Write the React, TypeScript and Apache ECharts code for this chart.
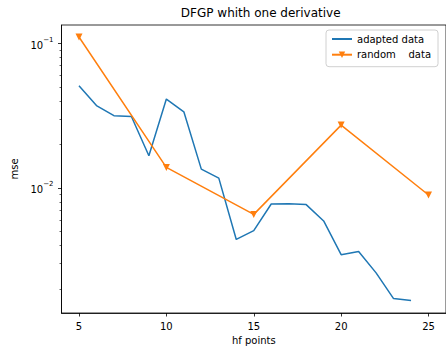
import React, { useEffect, useRef } from "react";
import * as echarts from "echarts";

const TITLE = "DFGP whith one derivative";
const X_NAME = "hf points";
const Y_NAME = "mse";
const ADAPTED_NAME = "adapted data";
const RANDOM_NAME = "random    data";

const adaptedX = [5, 6, 7, 8, 9, 10, 11, 12, 13, 14, 15, 16, 17, 18, 19, 20, 21, 22, 23, 24];
const adaptedMse = [
  0.0509, 0.0371, 0.0316, 0.0312, 0.0167, 0.0412, 0.0336, 0.0135, 0.0117, 0.00441,
  0.00507, 0.00775, 0.00779, 0.00768, 0.00592, 0.00346, 0.00364, 0.00259, 0.00172, 0.00167,
];
const randomX = [5, 10, 15, 20, 25];
const randomMse = [0.1106, 0.01387, 0.00657, 0.0272, 0.00895];

const xTicks = [5, 10, 15, 20, 25];
const yMajorTicks = [0.01, 0.1];
const yMinorTicks = [
  0.002, 0.003, 0.004, 0.005, 0.006, 0.007, 0.008, 0.009,
  0.02, 0.03, 0.04, 0.05, 0.06, 0.07, 0.08, 0.09,
];

const FONT = "DejaVu Sans";
const BLUE = "#1f77b4";
const ORANGE = "#ff7f0e";

export default function App() {
  const ref = useRef<HTMLDivElement>(null);
  useEffect(() => {
    if (!ref.current) return;
    const chart = echarts.init(ref.current, undefined, { renderer: "svg" });
    const yMin = 0.001368;
    const yMax = 0.1338;
    chart.setOption({
      animation: false,
      backgroundColor: "#fff",
      textStyle: { fontFamily: FONT },
      title: {
        text: TITLE,
        left: 255.7,
        textAlign: "center",
        top: 1.5,
        textStyle: { fontFamily: FONT, fontSize: 12, fontWeight: "normal", color: "#000" },
      },
      legend: {
        orient: "vertical",
        left: 326,
        top: 30,
        padding: [4, 7, 7, 5],
        itemGap: 5.7,
        itemWidth: 20,
        itemHeight: 8,
        borderColor: "#d0d0d0",
        borderWidth: 1,
        borderRadius: 3,
        backgroundColor: "#fff",
        textStyle: { fontFamily: FONT, fontSize: 10, color: "#000" },
        data: [
          { name: ADAPTED_NAME, itemStyle: { color: "transparent", borderWidth: 0 } },
          { name: RANDOM_NAME },
        ],
      },
      grid: {
        left: 61.5,
        top: 25,
        width: 388.5,
        height: 288,
        show: true,
        borderColor: "#000",
        borderWidth: 0.8,
        backgroundColor: "transparent",
      },
      xAxis: {
        type: "value",
        min: 4,
        max: 26,
        name: X_NAME,
        nameLocation: "middle",
        nameGap: 22,
        nameTextStyle: { fontFamily: FONT, fontSize: 10, color: "#000" },
        axisLine: { show: true, lineStyle: { color: "#000", width: 0.8 } },
        axisTick: { show: true, length: 3.5, customValues: xTicks, lineStyle: { color: "#000", width: 0.8 } },
        axisLabel: { customValues: xTicks, margin: 8, fontFamily: FONT, fontSize: 10, color: "#000" },
        splitLine: { show: false },
      },
      yAxis: [
        {
          type: "log",
          logBase: 10,
          min: yMin,
          max: yMax,
          name: Y_NAME,
          nameLocation: "middle",
          nameGap: 34,
          nameTextStyle: { fontFamily: FONT, fontSize: 10, color: "#000" },
          axisLine: { show: true, lineStyle: { color: "#000", width: 0.8 } },
          axisTick: { show: true, length: 3.5, customValues: yMajorTicks, lineStyle: { color: "#000", width: 0.8 } },
          axisLabel: {
            customValues: yMajorTicks,
            margin: 8,
            formatter: (v: number) => {
              const e = Math.round(Math.log10(v));
              return `{b|10}{s|\u2212${-e}}`;
            },
            rich: {
              b: { fontFamily: FONT, fontSize: 10, color: "#000", lineHeight: 14, verticalAlign: "bottom" },
              s: { fontFamily: FONT, fontSize: 7, color: "#000", lineHeight: 8, verticalAlign: "top" },
            },
          },
          splitLine: { show: false },
        },
        {
          type: "log",
          logBase: 10,
          min: yMin,
          max: yMax,
          position: "left",
          axisLine: { show: false },
          axisTick: { show: true, length: 2, customValues: yMinorTicks, lineStyle: { color: "#000", width: 0.6 } },
          axisLabel: { show: false },
          splitLine: { show: false },
        },
      ],
      series: [
        {
          name: ADAPTED_NAME,
          type: "line",
          data: adaptedX.map((x, i) => [x, adaptedMse[i]]),
          showSymbol: false,
          symbol: "none",
          itemStyle: { color: BLUE },
          lineStyle: { color: BLUE, width: 1.5 },
        },
        {
          name: RANDOM_NAME,
          type: "line",
          data: randomX.map((x, i) => [x, randomMse[i]]),
          symbol: "triangle",
          symbolRotate: 180,
          symbolSize: 7,
          itemStyle: { color: ORANGE },
          lineStyle: { color: ORANGE, width: 1.5 },
        },
      ],
    });
    return () => chart.dispose();
  }, []);
  return (
    <div
      ref={ref}
      style={{ position: "fixed", left: 0, top: 0, width: 446, height: 352 }}
    />
  );
}
